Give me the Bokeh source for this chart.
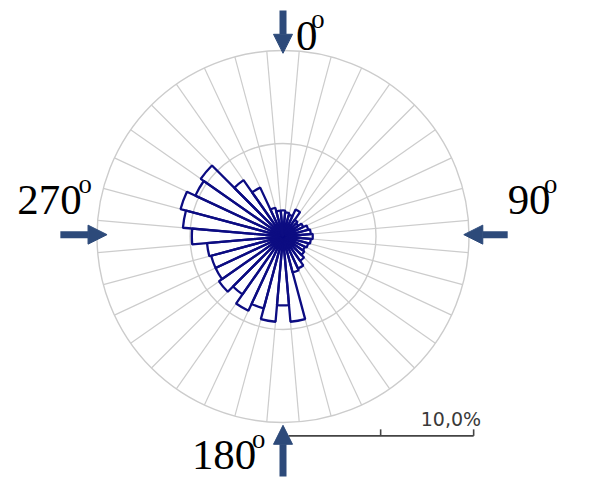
import numpy as np
from bokeh.plotting import figure
from bokeh.models import Range1d, Arrow, NormalHead, ColumnDataSource
from bokeh.core.properties import value
from bokeh.embed import file_html
from bokeh.resources import INLINE

# ---- data -------------------------------------------------------------
bin_centers = list(range(0, 360, 10))          # bearing of each petal (deg)
bin_width = 10                                  # deg
percent = [1.4, 1.3, 1.2, 1.6, 1.1, 1.0, 1.2, 1.4, 1.5, 1.6, 1.5, 1.4,
           1.3, 1.4, 1.6, 1.9, 2.0, 4.6, 3.7, 4.6, 4.0, 4.4, 3.8, 4.2,
           4.0, 4.0, 4.1, 4.9, 5.4, 5.7, 5.2, 5.4, 3.7, 2.9, 1.6, 1.4]
ring_values = [5, 10]                            # % rings
spoke_bearings = list(range(5, 360, 10))         # grid spokes
direction_labels = ["0", "90", "180", "270"]
direction_bearings = [0, 90, 180, 270]
scale_label = "10,0%"
scale_ticks = [5, 10]

# ---- layout -------------------------------------------------------------
W, H = 574, 479
PX = 18.6                     # pixels per percent
K = PX / 19.5                 # scale relative to reference
CX, CY = 282.5, 236.0         # centre in frame pixels
x0, x1 = -CX / PX, (W - CX) / PX
y1, y0 = CY / PX, -(H - CY) / PX

p = figure(width=W, height=H, x_range=Range1d(x0, x1), y_range=Range1d(y0, y1),
           output_backend="svg", toolbar_location=None,
           x_axis_type=None, y_axis_type=None, min_border=0)
p.outline_line_color = None
p.grid.visible = False
p.background_fill_color = "white"
p.border_fill_color = "white"

GRID = "#cccccc"
NAVY = "#0c0c82"
ARROW = "#2d4a7a"

rmax = max(ring_values)
# spokes
sb = np.radians(spoke_bearings)
p.segment(x0=0, y0=0, x1=rmax * np.sin(sb), y1=rmax * np.cos(sb),
          line_color=GRID, line_width=1.2)
# rings
p.circle(x=[0] * len(ring_values), y=[0] * len(ring_values), radius=ring_values,
         fill_color=None, line_color=GRID, line_width=1.4)

# petals
bc = np.array(bin_centers, dtype=float)
src = ColumnDataSource(dict(
    r=percent,
    start=np.radians(90 - bc - bin_width / 2),
    end=np.radians(90 - bc + bin_width / 2),
))
p.wedge(x=0, y=0, radius="r", start_angle="start", end_angle="end",
        source=src, fill_color=None, line_color=NAVY, line_width=2.3)

# direction arrows
tips = {0: 9.85, 90: 9.72, 180: 10.15, 270: 9.46}
tails = {0: 12.15, 90: 12.08, 180: 12.9, 270: 11.97}
for b in direction_bearings:
    rb = np.radians(b)
    off = 0.1 if b in (90, 270) else 0.0
    xs, ys = tails[b] * np.sin(rb), tails[b] * np.cos(rb) + off
    xe, ye = tips[b] * np.sin(rb), tips[b] * np.cos(rb) + off
    p.add_layout(Arrow(x_start=xs, y_start=ys, x_end=xe, y_end=ye,
                       line_color=ARROW, line_width=7,
                       end=NormalHead(size=19, fill_color=ARROW, line_color=ARROW, line_width=1)))

# positions given as pixel offsets from the rose centre (reference scale)
def dx(off):
    return off * K / PX

def dy(off):
    return -off * K / PX

lab_pos = {"0": (13.5, -210), "90": (235.5, -38), "180": (-95.5, 229.5), "270": (-278.5, -38)}
sup_pos = {"0": (29.5, -228), "90": (273.5, -55), "180": (-32.5, 212.5), "270": (-214.5, -55)}
big = f"{45 * K:.1f}px"
small = f"{28 * K:.1f}px"
for t in direction_labels:
    lx, ly = lab_pos[t]
    p.text(x=[dx(lx)], y=[dy(ly)], text=[t], text_font=value("Liberation Serif"),
           text_font_size=value(big), text_color="black",
           text_align="left", text_baseline="alphabetic")
    ox, oy = sup_pos[t]
    p.text(x=[dx(ox)], y=[dy(oy)], text=["o"], text_font=value("Liberation Serif"),
           text_font_size=value(small), text_color="black",
           text_align="left", text_baseline="alphabetic")

# scale bar
bar_start, bar_off = 0.3, 0.25
ybar = dy(209)
p.segment(x0=[bar_start], y0=[ybar], x1=[max(scale_ticks) + bar_off], y1=[ybar],
          line_color="#444444", line_width=1.6)
tk = np.array(scale_ticks, dtype=float) + bar_off
p.segment(x0=tk, y0=ybar, x1=tk, y1=ybar + 0.35, line_color="#444444", line_width=1.6)
p.text(x=[max(scale_ticks) + bar_off + 0.4], y=[dy(191)], text=[scale_label],
       text_font=value("DejaVu Sans"), text_font_size=value("19px"),
       text_color="#3a3a3a", text_align="right", text_baseline="alphabetic")

open("out.html", "w").write(file_html(p, INLINE))
